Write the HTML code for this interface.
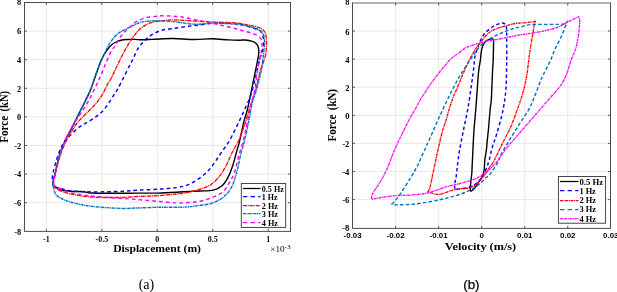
<!DOCTYPE html><html><head><meta charset="utf-8"><style>html,body{margin:0;padding:0;background:#fff;overflow:hidden;}svg{display:block;will-change:transform;}</style></head><body>
<svg width="617" height="292" viewBox="0 0 617 292">
<rect x="0" y="0" width="617" height="292" fill="#fff"/>
<line x1="46.40" y1="2.50" x2="46.40" y2="231.40" stroke="#e3e3e3" stroke-width="0.8"/>
<line x1="101.85" y1="2.50" x2="101.85" y2="231.40" stroke="#e3e3e3" stroke-width="0.8"/>
<line x1="157.30" y1="2.50" x2="157.30" y2="231.40" stroke="#e3e3e3" stroke-width="0.8"/>
<line x1="212.75" y1="2.50" x2="212.75" y2="231.40" stroke="#e3e3e3" stroke-width="0.8"/>
<line x1="268.20" y1="2.50" x2="268.20" y2="231.40" stroke="#e3e3e3" stroke-width="0.8"/>
<line x1="24.50" y1="31.10" x2="290.50" y2="31.10" stroke="#e3e3e3" stroke-width="0.8"/>
<line x1="24.50" y1="59.70" x2="290.50" y2="59.70" stroke="#e3e3e3" stroke-width="0.8"/>
<line x1="24.50" y1="88.30" x2="290.50" y2="88.30" stroke="#e3e3e3" stroke-width="0.8"/>
<line x1="24.50" y1="116.90" x2="290.50" y2="116.90" stroke="#e3e3e3" stroke-width="0.8"/>
<line x1="24.50" y1="145.50" x2="290.50" y2="145.50" stroke="#e3e3e3" stroke-width="0.8"/>
<line x1="24.50" y1="174.10" x2="290.50" y2="174.10" stroke="#e3e3e3" stroke-width="0.8"/>
<line x1="24.50" y1="202.70" x2="290.50" y2="202.70" stroke="#e3e3e3" stroke-width="0.8"/>
<line x1="395.64" y1="2.90" x2="395.64" y2="228.40" stroke="#e3e3e3" stroke-width="0.8"/>
<line x1="438.67" y1="2.90" x2="438.67" y2="228.40" stroke="#e3e3e3" stroke-width="0.8"/>
<line x1="481.70" y1="2.90" x2="481.70" y2="228.40" stroke="#e3e3e3" stroke-width="0.8"/>
<line x1="524.73" y1="2.90" x2="524.73" y2="228.40" stroke="#e3e3e3" stroke-width="0.8"/>
<line x1="567.76" y1="2.90" x2="567.76" y2="228.40" stroke="#e3e3e3" stroke-width="0.8"/>
<line x1="352.50" y1="31.00" x2="610.50" y2="31.00" stroke="#e3e3e3" stroke-width="0.8"/>
<line x1="352.50" y1="59.10" x2="610.50" y2="59.10" stroke="#e3e3e3" stroke-width="0.8"/>
<line x1="352.50" y1="87.20" x2="610.50" y2="87.20" stroke="#e3e3e3" stroke-width="0.8"/>
<line x1="352.50" y1="115.30" x2="610.50" y2="115.30" stroke="#e3e3e3" stroke-width="0.8"/>
<line x1="352.50" y1="143.40" x2="610.50" y2="143.40" stroke="#e3e3e3" stroke-width="0.8"/>
<line x1="352.50" y1="171.50" x2="610.50" y2="171.50" stroke="#e3e3e3" stroke-width="0.8"/>
<line x1="352.50" y1="199.60" x2="610.50" y2="199.60" stroke="#e3e3e3" stroke-width="0.8"/>
<path d="M52.80,184.50 C52.68,183.53 52.92,181.68 53.30,180.00 C53.68,178.32 54.57,176.47 55.10,174.40 C55.63,172.33 55.95,170.18 56.50,167.60 C57.05,165.02 57.65,161.75 58.40,158.90 C59.15,156.05 60.07,153.10 61.00,150.50 C61.93,147.90 63.17,145.25 64.00,143.30 C64.83,141.35 64.95,140.83 66.00,138.80 C67.05,136.77 68.73,134.10 70.30,131.10 C71.87,128.10 73.70,124.23 75.40,120.80 C77.10,117.37 78.78,113.92 80.50,110.50 C82.22,107.08 84.03,103.72 85.70,100.30 C87.37,96.88 88.93,93.88 90.50,90.00 C92.07,86.12 93.47,81.57 95.10,77.00 C96.73,72.43 98.83,66.27 100.30,62.60 C101.77,58.93 102.70,57.18 103.90,55.00 C105.10,52.82 106.23,51.17 107.50,49.50 C108.77,47.83 110.08,46.25 111.50,45.00 C112.92,43.75 114.42,42.80 116.00,42.00 C117.58,41.20 119.17,40.62 121.00,40.20 C122.83,39.78 124.67,39.63 127.00,39.50 C129.33,39.37 132.60,39.35 135.00,39.40 C137.40,39.45 138.62,39.80 141.40,39.80 C144.18,39.80 148.60,39.53 151.70,39.40 C154.80,39.27 156.33,39.15 160.00,39.00 C163.67,38.85 168.00,38.42 173.70,38.50 C179.40,38.58 187.82,39.45 194.20,39.50 C200.58,39.55 206.28,38.73 212.00,38.80 C217.72,38.87 223.83,39.67 228.50,39.90 C233.17,40.13 237.27,40.18 240.00,40.20 C242.73,40.22 242.85,39.80 244.90,40.00 C246.95,40.20 250.35,40.75 252.30,41.40 C254.25,42.05 255.58,42.87 256.60,43.90 C257.62,44.93 258.05,45.92 258.40,47.60 C258.75,49.28 258.88,51.60 258.70,54.00 C258.52,56.40 257.95,58.68 257.30,62.00 C256.65,65.32 255.85,68.78 254.80,73.90 C253.75,79.02 252.25,86.68 251.00,92.70 C249.75,98.72 248.47,105.25 247.30,110.00 C246.13,114.75 245.35,115.73 244.00,121.20 C242.65,126.67 240.45,137.67 239.20,142.80 C237.95,147.93 237.47,148.57 236.50,152.00 C235.53,155.43 234.67,159.47 233.40,163.40 C232.13,167.33 230.75,171.90 228.90,175.60 C227.05,179.30 224.88,183.18 222.30,185.60 C219.72,188.02 217.12,189.20 213.40,190.10 C209.68,191.00 204.15,190.78 200.00,191.00 C195.85,191.22 192.42,191.18 188.50,191.40 C184.58,191.62 181.63,192.02 176.50,192.30 C171.37,192.58 164.27,192.97 157.70,193.10 C151.13,193.23 143.38,193.07 137.10,193.10 C130.82,193.13 127.62,193.32 120.00,193.30 C112.38,193.28 97.40,193.25 91.40,193.00 C85.40,192.75 87.42,192.08 84.00,191.80 C80.58,191.52 74.57,191.60 70.90,191.30 C67.23,191.00 64.27,190.58 62.00,190.00 C59.73,189.42 58.63,188.50 57.30,187.80 C55.97,187.10 54.75,186.35 54.00,185.80 C53.25,185.25 52.92,185.47 52.80,184.50 Z" fill="none" stroke="#000000" stroke-width="1.40" stroke-linejoin="round"/>
<path d="M53.50,185.50 C52.90,184.40 52.78,182.42 52.60,181.00 C52.42,179.58 52.30,178.50 52.40,177.00 C52.50,175.50 52.88,173.58 53.20,172.00 C53.52,170.42 53.80,169.33 54.30,167.50 C54.80,165.67 55.58,163.00 56.20,161.00 C56.82,159.00 57.32,157.42 58.00,155.50 C58.68,153.58 59.43,151.50 60.30,149.50 C61.17,147.50 62.17,145.25 63.20,143.50 C64.23,141.75 65.32,140.37 66.50,139.00 C67.68,137.63 68.53,137.00 70.30,135.30 C72.07,133.60 74.95,130.57 77.10,128.80 C79.25,127.03 81.03,126.07 83.20,124.70 C85.37,123.33 87.58,122.20 90.10,120.60 C92.62,119.00 95.80,117.15 98.30,115.10 C100.80,113.05 103.05,110.80 105.10,108.30 C107.15,105.80 108.95,102.62 110.60,100.10 C112.25,97.58 113.80,95.08 115.00,93.20 C116.20,91.32 116.35,91.45 117.80,88.80 C119.25,86.15 121.68,81.27 123.70,77.30 C125.72,73.33 128.43,67.88 129.90,65.00 C131.37,62.12 131.03,62.93 132.50,60.00 C133.97,57.07 136.53,50.75 138.70,47.40 C140.87,44.05 143.22,42.07 145.50,39.90 C147.78,37.73 149.65,36.02 152.40,34.40 C155.15,32.78 158.45,31.18 162.00,30.20 C165.55,29.22 169.47,29.13 173.70,28.50 C177.93,27.87 182.83,27.02 187.40,26.40 C191.97,25.78 196.53,25.37 201.10,24.80 C205.67,24.23 209.98,23.25 214.80,23.00 C219.62,22.75 225.80,23.05 230.00,23.30 C234.20,23.55 236.67,23.88 240.00,24.50 C243.33,25.12 247.33,26.25 250.00,27.00 C252.67,27.75 254.38,28.45 256.00,29.00 C257.62,29.55 258.58,29.25 259.70,30.30 C260.82,31.35 262.05,33.23 262.70,35.30 C263.35,37.37 263.60,40.25 263.60,42.70 C263.60,45.15 263.05,48.12 262.70,50.00 C262.35,51.88 262.03,52.33 261.50,54.00 C260.97,55.67 260.45,56.37 259.50,60.00 C258.55,63.63 257.22,70.03 255.80,75.80 C254.38,81.57 252.90,88.90 251.00,94.60 C249.10,100.30 246.37,105.57 244.40,110.00 C242.43,114.43 241.67,116.13 239.20,121.20 C236.73,126.27 232.42,135.42 229.60,140.40 C226.78,145.38 224.63,147.65 222.30,151.10 C219.97,154.55 217.83,157.95 215.60,161.10 C213.37,164.25 211.50,167.22 208.90,170.00 C206.30,172.78 203.40,175.37 200.00,177.80 C196.60,180.23 192.42,182.97 188.50,184.60 C184.58,186.23 181.63,186.83 176.50,187.60 C171.37,188.37 164.27,188.77 157.70,189.20 C151.13,189.63 143.38,189.83 137.10,190.20 C130.82,190.57 127.62,191.12 120.00,191.40 C112.38,191.68 99.58,191.98 91.40,191.90 C83.22,191.82 75.80,191.38 70.90,190.90 C66.00,190.42 64.45,189.55 62.00,189.00 C59.55,188.45 57.62,188.18 56.20,187.60 C54.78,187.02 54.10,186.60 53.50,185.50 Z" fill="none" stroke="#0000ff" stroke-width="1.45" stroke-dasharray="3.6 3.0" stroke-linejoin="round"/>
<path d="M53.60,185.50 C53.25,184.33 53.23,182.75 53.40,181.00 C53.57,179.25 54.08,177.23 54.60,175.00 C55.12,172.77 55.68,170.43 56.50,167.60 C57.32,164.77 58.65,160.73 59.50,158.00 C60.35,155.27 60.40,154.20 61.60,151.20 C62.80,148.20 65.22,142.95 66.70,140.00 C68.18,137.05 68.88,136.17 70.50,133.50 C72.12,130.83 74.73,126.38 76.40,124.00 C78.07,121.62 78.68,121.13 80.50,119.20 C82.32,117.27 85.02,114.68 87.30,112.40 C89.58,110.12 92.13,107.78 94.20,105.50 C96.27,103.22 98.10,100.98 99.70,98.70 C101.30,96.42 102.55,94.08 103.80,91.80 C105.05,89.52 105.97,87.25 107.20,85.00 C108.43,82.75 109.62,81.35 111.20,78.30 C112.78,75.25 114.83,70.58 116.70,66.70 C118.57,62.82 120.53,58.60 122.40,55.00 C124.27,51.40 126.10,48.10 127.90,45.10 C129.70,42.10 131.40,39.48 133.20,37.00 C135.00,34.52 136.65,32.18 138.70,30.20 C140.75,28.22 143.22,26.42 145.50,25.10 C147.78,23.78 149.88,23.00 152.40,22.30 C154.92,21.60 157.05,21.30 160.60,20.90 C164.15,20.50 168.10,19.88 173.70,19.90 C179.30,19.92 187.35,20.63 194.20,21.00 C201.05,21.37 208.00,21.78 214.80,22.10 C221.60,22.42 229.58,22.45 235.00,22.90 C240.42,23.35 243.80,24.18 247.30,24.80 C250.80,25.42 253.53,25.88 256.00,26.60 C258.47,27.32 260.57,28.07 262.10,29.10 C263.63,30.13 264.48,31.15 265.20,32.80 C265.92,34.45 266.20,36.73 266.40,39.00 C266.60,41.27 266.50,43.90 266.40,46.40 C266.30,48.90 266.28,51.40 265.80,54.00 C265.32,56.60 264.38,59.32 263.50,62.00 C262.62,64.68 261.78,65.60 260.50,70.10 C259.22,74.60 257.38,83.35 255.80,89.00 C254.22,94.65 252.10,100.50 251.00,104.00 C249.90,107.50 250.28,106.50 249.20,110.00 C248.12,113.50 246.20,120.00 244.50,125.00 C242.80,130.00 241.03,135.47 239.00,140.00 C236.97,144.53 234.35,148.12 232.30,152.20 C230.25,156.28 228.75,160.60 226.70,164.50 C224.65,168.40 222.60,172.27 220.00,175.60 C217.40,178.93 214.43,182.23 211.10,184.50 C207.77,186.77 203.77,187.90 200.00,189.20 C196.23,190.50 192.42,191.50 188.50,192.30 C184.58,193.10 181.63,193.43 176.50,194.00 C171.37,194.57 164.27,195.28 157.70,195.70 C151.13,196.12 143.38,196.20 137.10,196.50 C130.82,196.80 127.62,197.42 120.00,197.50 C112.38,197.58 99.58,197.58 91.40,197.00 C83.22,196.42 76.03,195.02 70.90,194.00 C65.77,192.98 63.17,191.90 60.60,190.90 C58.03,189.90 56.67,188.90 55.50,188.00 C54.33,187.10 53.95,186.67 53.60,185.50 Z" fill="none" stroke="#ff0000" stroke-width="1.35" stroke-dasharray="4 0.7 1 0.7" stroke-linejoin="round"/>
<path d="M53.00,185.00 C52.80,183.08 52.95,181.77 53.30,180.00 C53.65,178.23 54.57,176.47 55.10,174.40 C55.63,172.33 55.95,170.18 56.50,167.60 C57.05,165.02 57.65,161.75 58.40,158.90 C59.15,156.05 60.07,153.10 61.00,150.50 C61.93,147.90 63.17,145.25 64.00,143.30 C64.83,141.35 64.95,140.83 66.00,138.80 C67.05,136.77 68.73,134.10 70.30,131.10 C71.87,128.10 73.70,124.23 75.40,120.80 C77.10,117.37 78.78,113.92 80.50,110.50 C82.22,107.08 84.03,103.72 85.70,100.30 C87.37,96.88 88.93,93.88 90.50,90.00 C92.07,86.12 93.47,81.57 95.10,77.00 C96.73,72.43 98.83,66.27 100.30,62.60 C101.77,58.93 102.50,57.92 103.90,55.00 C105.30,52.08 106.98,48.05 108.70,45.10 C110.42,42.15 112.37,39.42 114.20,37.30 C116.03,35.18 117.65,33.82 119.70,32.40 C121.75,30.98 123.95,30.10 126.50,28.80 C129.05,27.50 132.52,25.72 135.00,24.60 C137.48,23.48 138.62,22.72 141.40,22.10 C144.18,21.48 148.60,21.08 151.70,20.90 C154.80,20.72 156.33,20.88 160.00,21.00 C163.67,21.12 168.00,21.07 173.70,21.60 C179.40,22.13 187.35,23.93 194.20,24.20 C201.05,24.47 208.00,23.20 214.80,23.20 C221.60,23.20 229.58,23.73 235.00,24.20 C240.42,24.67 243.80,25.28 247.30,26.00 C250.80,26.72 253.63,27.57 256.00,28.50 C258.37,29.43 260.17,30.27 261.50,31.60 C262.83,32.93 263.48,34.65 264.00,36.50 C264.52,38.35 264.60,40.45 264.60,42.70 C264.60,44.95 264.30,47.12 264.00,50.00 C263.70,52.88 263.23,56.65 262.80,60.00 C262.37,63.35 262.42,65.27 261.40,70.10 C260.38,74.93 258.27,83.35 256.70,89.00 C255.13,94.65 253.32,98.63 252.00,104.00 C250.68,109.37 250.13,114.73 248.80,121.20 C247.47,127.67 245.27,137.63 244.00,142.80 C242.73,147.97 242.42,147.28 241.20,152.20 C239.98,157.12 238.37,166.35 236.70,172.30 C235.03,178.25 233.60,183.63 231.20,187.90 C228.80,192.17 225.65,195.30 222.30,197.90 C218.95,200.50 214.82,202.27 211.10,203.50 C207.38,204.73 203.77,204.75 200.00,205.30 C196.23,205.85 192.42,206.47 188.50,206.80 C184.58,207.13 181.63,207.22 176.50,207.30 C171.37,207.38 164.27,207.18 157.70,207.30 C151.13,207.42 143.38,207.82 137.10,208.00 C130.82,208.18 127.62,208.68 120.00,208.40 C112.38,208.12 99.58,207.33 91.40,206.30 C83.22,205.27 76.03,203.57 70.90,202.20 C65.77,200.83 63.00,199.22 60.60,198.10 C58.20,196.98 57.52,196.60 56.50,195.50 C55.48,194.40 55.08,193.25 54.50,191.50 C53.92,189.75 53.20,186.92 53.00,185.00 Z" fill="none" stroke="#0072bd" stroke-width="1.40" stroke-dasharray="3 0.6 1 0.6" stroke-linejoin="round"/>
<path d="M53.80,185.20 C53.50,184.12 53.73,181.87 54.00,180.00 C54.27,178.13 54.90,176.17 55.40,174.00 C55.90,171.83 56.40,169.58 57.00,167.00 C57.60,164.42 58.25,161.33 59.00,158.50 C59.75,155.67 60.58,152.75 61.50,150.00 C62.42,147.25 63.32,144.83 64.50,142.00 C65.68,139.17 67.18,135.83 68.60,133.00 C70.02,130.17 71.48,127.52 73.00,125.00 C74.52,122.48 76.00,120.45 77.70,117.90 C79.40,115.35 81.45,112.45 83.20,109.70 C84.95,106.95 86.68,104.10 88.20,101.40 C89.72,98.70 90.97,96.15 92.30,93.50 C93.63,90.85 95.00,88.00 96.20,85.50 C97.40,83.00 98.13,81.63 99.50,78.50 C100.87,75.37 102.55,71.07 104.40,66.70 C106.25,62.33 108.75,55.90 110.60,52.30 C112.45,48.70 113.88,47.67 115.50,45.10 C117.12,42.53 118.70,39.18 120.30,36.90 C121.90,34.62 123.38,33.12 125.10,31.40 C126.82,29.68 128.90,28.12 130.60,26.60 C132.30,25.08 132.80,23.77 135.30,22.30 C137.80,20.83 141.83,18.82 145.60,17.80 C149.37,16.78 155.05,16.53 157.90,16.20 C160.75,15.87 158.93,15.70 162.70,15.80 C166.47,15.90 174.10,15.93 180.50,16.80 C186.90,17.67 194.93,19.73 201.10,21.00 C207.27,22.27 211.85,23.15 217.50,24.40 C223.15,25.65 230.65,27.42 235.00,28.50 C239.35,29.58 240.72,30.08 243.60,30.90 C246.48,31.72 249.93,32.57 252.30,33.40 C254.67,34.23 256.37,34.97 257.80,35.90 C259.23,36.83 260.18,37.67 260.90,39.00 C261.62,40.33 262.00,42.07 262.10,43.90 C262.20,45.73 261.70,48.32 261.50,50.00 C261.30,51.68 261.40,51.50 260.90,54.00 C260.40,56.50 259.23,61.00 258.50,65.00 C257.77,69.00 257.12,73.83 256.50,78.00 C255.88,82.17 255.68,85.60 254.80,90.00 C253.92,94.40 252.40,99.20 251.20,104.40 C250.00,109.60 249.00,114.80 247.60,121.20 C246.20,127.60 244.23,137.25 242.80,142.80 C241.37,148.35 240.38,149.58 239.00,154.50 C237.62,159.42 236.18,167.48 234.50,172.30 C232.82,177.12 230.93,180.07 228.90,183.40 C226.87,186.73 225.27,189.88 222.30,192.30 C219.33,194.72 214.82,196.42 211.10,197.90 C207.38,199.38 203.77,200.43 200.00,201.20 C196.23,201.97 192.42,202.22 188.50,202.50 C184.58,202.78 181.63,203.10 176.50,202.90 C171.37,202.70 164.27,201.87 157.70,201.30 C151.13,200.73 143.38,200.00 137.10,199.50 C130.82,199.00 124.52,198.60 120.00,198.30 C115.48,198.00 114.77,198.08 110.00,197.70 C105.23,197.32 97.92,196.80 91.40,196.00 C84.88,195.20 76.03,194.10 70.90,192.90 C65.77,191.70 63.12,189.87 60.60,188.80 C58.08,187.73 56.93,187.10 55.80,186.50 C54.67,185.90 54.10,186.28 53.80,185.20 Z" fill="none" stroke="#ff00ff" stroke-width="1.45" stroke-dasharray="3.8 3.0" stroke-linejoin="round"/>
<path d="M470.90,191.20 C470.37,191.07 470.35,189.65 470.30,188.50 C470.25,187.35 470.38,186.55 470.60,184.30 C470.82,182.05 471.38,177.18 471.60,175.00 C471.82,172.82 471.68,175.27 471.90,171.20 C472.12,167.13 472.55,157.47 472.90,150.60 C473.25,143.73 473.50,137.10 474.00,130.00 C474.50,122.90 475.30,115.67 475.90,108.00 C476.50,100.33 477.12,90.33 477.60,84.00 C478.08,77.67 478.33,74.00 478.80,70.00 C479.27,66.00 480.00,63.00 480.40,60.00 C480.80,57.00 480.82,54.35 481.20,52.00 C481.58,49.65 481.93,47.70 482.70,45.90 C483.47,44.10 484.63,42.28 485.80,41.20 C486.97,40.12 488.67,39.78 489.70,39.40 C490.73,39.02 491.37,38.85 492.00,38.90 C492.63,38.95 493.25,38.53 493.50,39.70 C493.75,40.87 493.55,42.52 493.50,45.90 C493.45,49.28 493.35,55.98 493.20,60.00 C493.05,64.02 492.80,66.00 492.60,70.00 C492.40,74.00 492.22,79.00 492.00,84.00 C491.78,89.00 491.58,96.00 491.30,100.00 C491.02,104.00 490.65,104.58 490.30,108.00 C489.95,111.42 489.52,116.83 489.20,120.50 C488.88,124.17 488.73,126.57 488.40,130.00 C488.07,133.43 487.55,137.67 487.20,141.10 C486.85,144.53 486.70,147.45 486.30,150.60 C485.90,153.75 485.18,156.57 484.80,160.00 C484.42,163.43 484.55,168.20 484.00,171.20 C483.45,174.20 482.58,175.87 481.50,178.00 C480.42,180.13 478.83,182.12 477.50,184.00 C476.17,185.88 474.60,188.10 473.50,189.30 C472.40,190.50 471.43,191.33 470.90,191.20 Z" fill="none" stroke="#000000" stroke-width="1.40" stroke-linejoin="round"/>
<path d="M455.40,188.90 C454.48,188.42 454.63,187.32 454.60,186.00 C454.57,184.68 454.93,182.58 455.20,181.00 C455.47,179.42 455.82,179.17 456.20,176.50 C456.58,173.83 456.95,169.32 457.50,165.00 C458.05,160.68 458.50,156.43 459.50,150.60 C460.50,144.77 462.08,137.10 463.50,130.00 C464.92,122.90 466.65,115.67 468.00,108.00 C469.35,100.33 470.68,90.33 471.60,84.00 C472.52,77.67 472.93,74.55 473.50,70.00 C474.07,65.45 474.10,60.98 475.00,56.70 C475.90,52.42 477.48,47.90 478.90,44.30 C480.32,40.70 481.70,37.67 483.50,35.10 C485.30,32.53 487.63,30.58 489.70,28.90 C491.77,27.22 493.85,25.98 495.90,25.00 C497.95,24.02 500.52,23.17 502.00,23.00 C503.48,22.83 504.07,23.28 504.80,24.00 C505.53,24.72 506.08,24.95 506.40,27.30 C506.72,29.65 506.65,32.65 506.70,38.10 C506.75,43.55 506.78,52.35 506.70,60.00 C506.62,67.65 506.53,77.33 506.20,84.00 C505.87,90.67 505.47,94.60 504.70,100.00 C503.93,105.40 502.98,110.58 501.60,116.40 C500.22,122.22 497.95,129.75 496.40,134.90 C494.85,140.05 493.50,143.12 492.30,147.30 C491.10,151.48 490.17,156.55 489.20,160.00 C488.23,163.45 487.50,165.42 486.50,168.00 C485.50,170.58 484.52,173.30 483.20,175.50 C481.88,177.70 480.65,179.35 478.60,181.20 C476.55,183.05 473.98,185.32 470.90,186.60 C467.82,187.88 462.68,188.52 460.10,188.90 C457.52,189.28 456.32,189.38 455.40,188.90 Z" fill="none" stroke="#0000ff" stroke-width="1.45" stroke-dasharray="3.4 2.6" stroke-linejoin="round"/>
<path d="M427.80,191.80 C427.80,191.80 429.03,190.13 429.60,188.50 C430.17,186.87 430.63,184.62 431.20,182.00 C431.77,179.38 432.28,176.22 433.00,172.80 C433.72,169.38 434.68,165.28 435.50,161.50 C436.32,157.72 436.75,155.13 437.90,150.10 C439.05,145.07 441.05,136.23 442.40,131.30 C443.75,126.37 444.92,124.05 446.00,120.50 C447.08,116.95 447.68,113.92 448.90,110.00 C450.12,106.08 451.70,101.17 453.30,97.00 C454.90,92.83 456.72,89.25 458.50,85.00 C460.28,80.75 462.15,75.75 464.00,71.50 C465.85,67.25 467.83,63.00 469.60,59.50 C471.37,56.00 472.80,53.33 474.60,50.50 C476.40,47.67 478.15,45.33 480.40,42.50 C482.65,39.67 485.52,35.77 488.10,33.50 C490.68,31.23 493.07,30.13 495.90,28.90 C498.73,27.67 501.92,27.00 505.10,26.10 C508.28,25.20 511.83,24.05 515.00,23.50 C518.17,22.95 521.90,23.00 524.10,22.80 C526.30,22.60 526.32,22.55 528.20,22.30 C530.08,22.05 535.40,21.30 535.40,21.30 C535.40,21.30 534.92,21.83 534.40,24.40 C533.88,26.97 533.05,32.23 532.30,36.70 C531.55,41.17 530.48,47.32 529.90,51.20 C529.32,55.08 529.43,55.33 528.80,60.00 C528.17,64.67 527.23,73.25 526.10,79.20 C524.97,85.15 523.52,90.52 522.00,95.70 C520.48,100.88 518.87,105.13 517.00,110.30 C515.13,115.47 513.20,121.23 510.80,126.70 C508.40,132.17 505.33,137.55 502.60,143.10 C499.87,148.65 496.58,155.93 494.40,160.00 C492.22,164.07 491.10,165.00 489.50,167.50 C487.90,170.00 486.10,173.23 484.80,175.00 C483.50,176.77 483.25,176.43 481.70,178.10 C480.15,179.77 477.82,183.33 475.50,185.00 C473.18,186.67 470.63,187.45 467.80,188.10 C464.97,188.75 461.58,188.38 458.50,188.90 C455.42,189.42 452.38,190.30 449.30,191.20 C446.22,192.10 442.55,193.87 440.00,194.30 C437.45,194.73 436.03,194.22 434.00,193.80 C431.97,193.38 427.80,191.80 427.80,191.80 Z" fill="none" stroke="#ff0000" stroke-width="1.35" stroke-dasharray="3 0.6 1 0.6" stroke-linejoin="round"/>
<path d="M391.80,204.20 C391.80,204.20 392.35,203.98 393.90,202.10 C395.45,200.22 398.18,197.18 401.10,192.90 C404.02,188.62 408.60,181.05 411.40,176.40 C414.20,171.75 415.88,169.02 417.90,165.00 C419.92,160.98 421.47,156.82 423.50,152.30 C425.53,147.78 427.52,143.65 430.10,137.90 C432.68,132.15 436.77,122.78 439.00,117.80 C441.23,112.82 442.00,111.22 443.50,108.00 C445.00,104.78 446.50,101.58 448.00,98.50 C449.50,95.42 450.92,92.58 452.50,89.50 C454.08,86.42 455.72,83.17 457.50,80.00 C459.28,76.83 461.28,73.58 463.20,70.50 C465.12,67.42 467.12,64.33 469.00,61.50 C470.88,58.67 472.92,55.75 474.50,53.50 C476.08,51.25 477.00,49.78 478.50,48.00 C480.00,46.22 481.38,44.47 483.50,42.80 C485.62,41.13 488.37,39.55 491.20,38.00 C494.03,36.45 497.40,34.88 500.50,33.50 C503.60,32.12 507.38,30.60 509.80,29.70 C512.22,28.80 512.97,28.63 515.00,28.10 C517.03,27.57 519.45,27.08 522.00,26.50 C524.55,25.92 525.48,24.95 530.30,24.60 C535.12,24.25 545.25,24.50 550.90,24.40 C556.55,24.30 561.47,24.52 564.20,24.00 C566.93,23.48 567.30,21.30 567.30,21.30 C567.30,21.30 566.32,23.93 565.30,26.50 C564.28,29.07 562.92,32.93 561.20,36.70 C559.48,40.47 556.72,45.32 555.00,49.10 C553.28,52.88 552.45,55.92 550.90,59.40 C549.35,62.88 547.32,66.70 545.70,70.00 C544.08,73.30 543.22,74.37 541.20,79.20 C539.18,84.03 535.75,93.82 533.60,99.00 C531.45,104.18 530.73,106.02 528.30,110.30 C525.87,114.58 522.25,119.57 519.00,124.70 C515.75,129.83 511.88,135.97 508.80,141.10 C505.72,146.23 502.37,151.87 500.50,155.50 C498.63,159.13 499.45,159.65 497.60,162.90 C495.75,166.15 491.45,172.48 489.40,175.00 C487.35,177.52 486.85,176.58 485.30,178.00 C483.75,179.42 482.50,181.55 480.10,183.50 C477.70,185.45 474.23,187.90 470.90,189.70 C467.57,191.50 463.70,193.02 460.10,194.30 C456.50,195.58 452.65,196.50 449.30,197.40 C445.95,198.30 443.58,198.92 440.00,199.70 C436.42,200.48 432.23,201.35 427.80,202.10 C423.37,202.85 417.85,203.75 413.40,204.20 C408.95,204.65 404.17,204.70 401.10,204.80 C398.03,204.90 396.55,204.90 395.00,204.80 C393.45,204.70 391.80,204.20 391.80,204.20 Z" fill="none" stroke="#0072bd" stroke-width="1.40" stroke-dasharray="3.5 2.2" stroke-linejoin="round"/>
<path d="M372.30,199.40 C372.30,199.40 371.40,198.12 371.60,196.90 C371.80,195.68 372.55,193.85 373.50,192.10 C374.45,190.35 375.87,188.63 377.30,186.40 C378.73,184.17 380.50,181.58 382.10,178.70 C383.70,175.82 385.47,172.28 386.90,169.10 C388.33,165.92 389.43,162.78 390.70,159.60 C391.97,156.42 392.75,154.00 394.50,150.00 C396.25,146.00 398.60,140.97 401.20,135.60 C403.80,130.23 407.80,122.12 410.10,117.80 C412.40,113.48 413.33,112.67 415.00,109.70 C416.67,106.73 418.73,102.40 420.10,100.00 C421.47,97.60 421.32,98.15 423.20,95.30 C425.08,92.45 428.32,87.20 431.40,82.90 C434.48,78.60 438.43,73.52 441.70,69.50 C444.97,65.48 447.95,61.70 451.00,58.80 C454.05,55.90 457.67,53.87 460.00,52.10 C462.33,50.33 462.88,49.37 465.00,48.20 C467.12,47.03 470.13,46.00 472.70,45.10 C475.27,44.20 477.83,43.50 480.40,42.80 C482.97,42.10 485.52,41.42 488.10,40.90 C490.68,40.38 493.07,40.22 495.90,39.70 C498.73,39.18 501.92,38.45 505.10,37.80 C508.28,37.15 512.52,36.28 515.00,35.80 C517.48,35.32 515.73,35.60 520.00,34.90 C524.27,34.20 534.43,32.83 540.60,31.60 C546.77,30.37 552.55,29.05 557.00,27.50 C561.45,25.95 563.70,24.12 567.30,22.30 C570.90,20.48 578.60,16.60 578.60,16.60 C578.60,16.60 579.60,18.40 579.70,20.30 C579.80,22.20 579.38,25.60 579.20,28.00 C579.02,30.40 579.20,31.18 578.60,34.70 C578.00,38.22 576.85,44.88 575.60,49.10 C574.35,53.32 572.57,55.90 571.10,60.00 C569.63,64.10 568.37,69.70 566.80,73.70 C565.23,77.70 563.33,81.28 561.70,84.00 C560.07,86.72 559.23,87.33 557.00,90.00 C554.77,92.67 551.20,96.67 548.30,100.00 C545.40,103.33 542.50,106.67 539.60,110.00 C536.70,113.33 533.80,116.67 530.90,120.00 C528.00,123.33 525.10,126.67 522.20,130.00 C519.30,133.33 516.13,136.95 513.50,140.00 C510.87,143.05 508.57,145.55 506.40,148.30 C504.23,151.05 502.32,153.97 500.50,156.50 C498.68,159.03 497.58,161.17 495.50,163.50 C493.42,165.83 490.37,168.50 488.00,170.50 C485.63,172.50 483.13,174.23 481.30,175.50 C479.47,176.77 478.73,177.28 477.00,178.10 C475.27,178.92 473.72,179.50 470.90,180.40 C468.08,181.30 463.70,182.57 460.10,183.50 C456.50,184.43 452.65,185.10 449.30,186.00 C445.95,186.90 443.58,187.75 440.00,188.90 C436.42,190.05 432.57,191.88 427.80,192.90 C423.03,193.92 416.63,194.55 411.40,195.00 C406.17,195.45 400.80,195.28 396.40,195.60 C392.00,195.92 388.18,196.47 385.00,196.90 C381.82,197.33 379.42,197.78 377.30,198.20 C375.18,198.62 372.30,199.40 372.30,199.40 Z" fill="none" stroke="#ff00ff" stroke-width="1.35" stroke-dasharray="2.6 0.6 1 0.6" stroke-linejoin="round"/>
<rect x="24.50" y="2.50" width="266.00" height="228.90" fill="none" stroke="#4d4d4d" stroke-width="1"/>
<line x1="46.40" y1="231.40" x2="46.40" y2="228.80" stroke="#4d4d4d" stroke-width="0.9"/>
<line x1="46.40" y1="2.50" x2="46.40" y2="5.10" stroke="#4d4d4d" stroke-width="0.9"/>
<line x1="101.85" y1="231.40" x2="101.85" y2="228.80" stroke="#4d4d4d" stroke-width="0.9"/>
<line x1="101.85" y1="2.50" x2="101.85" y2="5.10" stroke="#4d4d4d" stroke-width="0.9"/>
<line x1="157.30" y1="231.40" x2="157.30" y2="228.80" stroke="#4d4d4d" stroke-width="0.9"/>
<line x1="157.30" y1="2.50" x2="157.30" y2="5.10" stroke="#4d4d4d" stroke-width="0.9"/>
<line x1="212.75" y1="231.40" x2="212.75" y2="228.80" stroke="#4d4d4d" stroke-width="0.9"/>
<line x1="212.75" y1="2.50" x2="212.75" y2="5.10" stroke="#4d4d4d" stroke-width="0.9"/>
<line x1="268.20" y1="231.40" x2="268.20" y2="228.80" stroke="#4d4d4d" stroke-width="0.9"/>
<line x1="268.20" y1="2.50" x2="268.20" y2="5.10" stroke="#4d4d4d" stroke-width="0.9"/>
<line x1="24.50" y1="31.10" x2="27.10" y2="31.10" stroke="#4d4d4d" stroke-width="0.9"/>
<line x1="290.50" y1="31.10" x2="287.90" y2="31.10" stroke="#4d4d4d" stroke-width="0.9"/>
<line x1="24.50" y1="59.70" x2="27.10" y2="59.70" stroke="#4d4d4d" stroke-width="0.9"/>
<line x1="290.50" y1="59.70" x2="287.90" y2="59.70" stroke="#4d4d4d" stroke-width="0.9"/>
<line x1="24.50" y1="88.30" x2="27.10" y2="88.30" stroke="#4d4d4d" stroke-width="0.9"/>
<line x1="290.50" y1="88.30" x2="287.90" y2="88.30" stroke="#4d4d4d" stroke-width="0.9"/>
<line x1="24.50" y1="116.90" x2="27.10" y2="116.90" stroke="#4d4d4d" stroke-width="0.9"/>
<line x1="290.50" y1="116.90" x2="287.90" y2="116.90" stroke="#4d4d4d" stroke-width="0.9"/>
<line x1="24.50" y1="145.50" x2="27.10" y2="145.50" stroke="#4d4d4d" stroke-width="0.9"/>
<line x1="290.50" y1="145.50" x2="287.90" y2="145.50" stroke="#4d4d4d" stroke-width="0.9"/>
<line x1="24.50" y1="174.10" x2="27.10" y2="174.10" stroke="#4d4d4d" stroke-width="0.9"/>
<line x1="290.50" y1="174.10" x2="287.90" y2="174.10" stroke="#4d4d4d" stroke-width="0.9"/>
<line x1="24.50" y1="202.70" x2="27.10" y2="202.70" stroke="#4d4d4d" stroke-width="0.9"/>
<line x1="290.50" y1="202.70" x2="287.90" y2="202.70" stroke="#4d4d4d" stroke-width="0.9"/>
<line x1="352.50" y1="2.90" x2="610.50" y2="2.90" stroke="#b4b4b4" stroke-width="2.00"/>
<polyline points="352.50,2.40 352.50,228.40 610.50,228.40 610.50,2.40" fill="none" stroke="#4d4d4d" stroke-width="1"/>
<line x1="395.64" y1="228.40" x2="395.64" y2="225.80" stroke="#4d4d4d" stroke-width="0.9"/>
<line x1="395.64" y1="2.90" x2="395.64" y2="5.50" stroke="#4d4d4d" stroke-width="0.9"/>
<line x1="438.67" y1="228.40" x2="438.67" y2="225.80" stroke="#4d4d4d" stroke-width="0.9"/>
<line x1="438.67" y1="2.90" x2="438.67" y2="5.50" stroke="#4d4d4d" stroke-width="0.9"/>
<line x1="481.70" y1="228.40" x2="481.70" y2="225.80" stroke="#4d4d4d" stroke-width="0.9"/>
<line x1="481.70" y1="2.90" x2="481.70" y2="5.50" stroke="#4d4d4d" stroke-width="0.9"/>
<line x1="524.73" y1="228.40" x2="524.73" y2="225.80" stroke="#4d4d4d" stroke-width="0.9"/>
<line x1="524.73" y1="2.90" x2="524.73" y2="5.50" stroke="#4d4d4d" stroke-width="0.9"/>
<line x1="567.76" y1="228.40" x2="567.76" y2="225.80" stroke="#4d4d4d" stroke-width="0.9"/>
<line x1="567.76" y1="2.90" x2="567.76" y2="5.50" stroke="#4d4d4d" stroke-width="0.9"/>
<line x1="352.50" y1="31.00" x2="355.10" y2="31.00" stroke="#4d4d4d" stroke-width="0.9"/>
<line x1="610.50" y1="31.00" x2="607.90" y2="31.00" stroke="#4d4d4d" stroke-width="0.9"/>
<line x1="352.50" y1="59.10" x2="355.10" y2="59.10" stroke="#4d4d4d" stroke-width="0.9"/>
<line x1="610.50" y1="59.10" x2="607.90" y2="59.10" stroke="#4d4d4d" stroke-width="0.9"/>
<line x1="352.50" y1="87.20" x2="355.10" y2="87.20" stroke="#4d4d4d" stroke-width="0.9"/>
<line x1="610.50" y1="87.20" x2="607.90" y2="87.20" stroke="#4d4d4d" stroke-width="0.9"/>
<line x1="352.50" y1="115.30" x2="355.10" y2="115.30" stroke="#4d4d4d" stroke-width="0.9"/>
<line x1="610.50" y1="115.30" x2="607.90" y2="115.30" stroke="#4d4d4d" stroke-width="0.9"/>
<line x1="352.50" y1="143.40" x2="355.10" y2="143.40" stroke="#4d4d4d" stroke-width="0.9"/>
<line x1="610.50" y1="143.40" x2="607.90" y2="143.40" stroke="#4d4d4d" stroke-width="0.9"/>
<line x1="352.50" y1="171.50" x2="355.10" y2="171.50" stroke="#4d4d4d" stroke-width="0.9"/>
<line x1="610.50" y1="171.50" x2="607.90" y2="171.50" stroke="#4d4d4d" stroke-width="0.9"/>
<line x1="352.50" y1="199.60" x2="355.10" y2="199.60" stroke="#4d4d4d" stroke-width="0.9"/>
<line x1="610.50" y1="199.60" x2="607.90" y2="199.60" stroke="#4d4d4d" stroke-width="0.9"/>
<g transform="translate(21.20 4.70) scale(1.080 1)"><text x="0" y="0" font-family="'Liberation Serif', serif" font-size="7.70" font-weight="bold" text-anchor="end" fill="#000">8</text></g>
<g transform="translate(21.20 34.30) scale(1.080 1)"><text x="0" y="0" font-family="'Liberation Serif', serif" font-size="7.70" font-weight="bold" text-anchor="end" fill="#000">6</text></g>
<g transform="translate(21.20 62.90) scale(1.080 1)"><text x="0" y="0" font-family="'Liberation Serif', serif" font-size="7.70" font-weight="bold" text-anchor="end" fill="#000">4</text></g>
<g transform="translate(21.20 91.50) scale(1.080 1)"><text x="0" y="0" font-family="'Liberation Serif', serif" font-size="7.70" font-weight="bold" text-anchor="end" fill="#000">2</text></g>
<g transform="translate(21.20 120.10) scale(1.080 1)"><text x="0" y="0" font-family="'Liberation Serif', serif" font-size="7.70" font-weight="bold" text-anchor="end" fill="#000">0</text></g>
<g transform="translate(21.20 148.70) scale(1.080 1)"><text x="0" y="0" font-family="'Liberation Serif', serif" font-size="7.70" font-weight="bold" text-anchor="end" fill="#000">-2</text></g>
<g transform="translate(21.20 177.30) scale(1.080 1)"><text x="0" y="0" font-family="'Liberation Serif', serif" font-size="7.70" font-weight="bold" text-anchor="end" fill="#000">-4</text></g>
<g transform="translate(21.20 205.90) scale(1.080 1)"><text x="0" y="0" font-family="'Liberation Serif', serif" font-size="7.70" font-weight="bold" text-anchor="end" fill="#000">-6</text></g>
<g transform="translate(21.20 234.50) scale(1.080 1)"><text x="0" y="0" font-family="'Liberation Serif', serif" font-size="7.70" font-weight="bold" text-anchor="end" fill="#000">-8</text></g>
<g transform="translate(46.40 241.60) scale(1.060 1)"><text x="0" y="0" font-family="'Liberation Serif', serif" font-size="7.50" font-weight="bold" text-anchor="middle" fill="#000">-1</text></g>
<g transform="translate(101.85 241.60) scale(1.060 1)"><text x="0" y="0" font-family="'Liberation Serif', serif" font-size="7.50" font-weight="bold" text-anchor="middle" fill="#000">-0.5</text></g>
<g transform="translate(157.30 241.60) scale(1.060 1)"><text x="0" y="0" font-family="'Liberation Serif', serif" font-size="7.50" font-weight="bold" text-anchor="middle" fill="#000">0</text></g>
<g transform="translate(212.75 241.60) scale(1.060 1)"><text x="0" y="0" font-family="'Liberation Serif', serif" font-size="7.50" font-weight="bold" text-anchor="middle" fill="#000">0.5</text></g>
<g transform="translate(268.20 241.60) scale(1.060 1)"><text x="0" y="0" font-family="'Liberation Serif', serif" font-size="7.50" font-weight="bold" text-anchor="middle" fill="#000">1</text></g>
<g transform="translate(270.30 252.20) scale(1.080 1)"><text x="0" y="0" font-family="'Liberation Serif', serif" font-size="8.40" font-weight="normal" text-anchor="start" fill="#000">&#215;10</text></g>
<g transform="translate(284.50 248.60) scale(1.100 1)"><text x="0" y="0" font-family="'Liberation Serif', serif" font-size="6.60" font-weight="normal" text-anchor="start" fill="#000">-3</text></g>
<text x="113.20" y="251.90" font-family="'Liberation Serif', serif" font-size="10.40" font-weight="bold" text-anchor="start" fill="#000" textLength="87.80" lengthAdjust="spacingAndGlyphs">Displacement (m)</text>
<g transform="translate(8.2 142.8) scale(1.18 1) rotate(-90)"><text x="0.00" y="0.00" font-family="'Liberation Serif', serif" font-size="10.20" font-weight="bold" text-anchor="start" fill="#000" textLength="27.00" lengthAdjust="spacingAndGlyphs">Force</text><text x="31.30" y="0.00" font-family="'Liberation Serif', serif" font-size="10.20" font-weight="bold" text-anchor="start" fill="#000" textLength="20.60" lengthAdjust="spacingAndGlyphs">(kN)</text></g>
<text x="146.45" y="288.80" font-family="'Liberation Serif', serif" font-size="14.00" font-weight="normal" text-anchor="middle" fill="#000">(a)</text>
<g transform="translate(349.40 5.40) scale(1.080 1)"><text x="0" y="0" font-family="'Liberation Serif', serif" font-size="7.90" font-weight="bold" text-anchor="end" fill="#000">8</text></g>
<g transform="translate(349.40 34.60) scale(1.080 1)"><text x="0" y="0" font-family="'Liberation Serif', serif" font-size="7.90" font-weight="bold" text-anchor="end" fill="#000">6</text></g>
<g transform="translate(349.40 62.70) scale(1.080 1)"><text x="0" y="0" font-family="'Liberation Serif', serif" font-size="7.90" font-weight="bold" text-anchor="end" fill="#000">4</text></g>
<g transform="translate(349.40 90.80) scale(1.080 1)"><text x="0" y="0" font-family="'Liberation Serif', serif" font-size="7.90" font-weight="bold" text-anchor="end" fill="#000">2</text></g>
<g transform="translate(349.40 118.90) scale(1.080 1)"><text x="0" y="0" font-family="'Liberation Serif', serif" font-size="7.90" font-weight="bold" text-anchor="end" fill="#000">0</text></g>
<g transform="translate(349.40 147.00) scale(1.080 1)"><text x="0" y="0" font-family="'Liberation Serif', serif" font-size="7.90" font-weight="bold" text-anchor="end" fill="#000">-2</text></g>
<g transform="translate(349.40 175.10) scale(1.080 1)"><text x="0" y="0" font-family="'Liberation Serif', serif" font-size="7.90" font-weight="bold" text-anchor="end" fill="#000">-4</text></g>
<g transform="translate(349.40 203.20) scale(1.080 1)"><text x="0" y="0" font-family="'Liberation Serif', serif" font-size="7.90" font-weight="bold" text-anchor="end" fill="#000">-6</text></g>
<g transform="translate(349.40 231.30) scale(1.080 1)"><text x="0" y="0" font-family="'Liberation Serif', serif" font-size="7.90" font-weight="bold" text-anchor="end" fill="#000">-8</text></g>
<text x="352.61" y="238.30" font-family="'Liberation Sans', sans-serif" font-size="7.90" font-weight="bold" text-anchor="middle" fill="#000">-0.03</text>
<text x="395.64" y="238.30" font-family="'Liberation Sans', sans-serif" font-size="7.90" font-weight="bold" text-anchor="middle" fill="#000">-0.02</text>
<text x="438.67" y="238.30" font-family="'Liberation Sans', sans-serif" font-size="7.90" font-weight="bold" text-anchor="middle" fill="#000">-0.01</text>
<text x="481.70" y="238.30" font-family="'Liberation Sans', sans-serif" font-size="7.90" font-weight="bold" text-anchor="middle" fill="#000">0</text>
<text x="524.73" y="238.30" font-family="'Liberation Sans', sans-serif" font-size="7.90" font-weight="bold" text-anchor="middle" fill="#000">0.01</text>
<text x="567.76" y="238.30" font-family="'Liberation Sans', sans-serif" font-size="7.90" font-weight="bold" text-anchor="middle" fill="#000">0.02</text>
<text x="610.79" y="238.30" font-family="'Liberation Sans', sans-serif" font-size="7.90" font-weight="bold" text-anchor="middle" fill="#000">0.03</text>
<text x="444.70" y="250.10" font-family="'Liberation Serif', serif" font-size="10.60" font-weight="bold" text-anchor="start" fill="#000" textLength="71.50" lengthAdjust="spacingAndGlyphs">Velocity (m/s)</text>
<g transform="translate(335.5 141.5) scale(1.18 1) rotate(-90)"><text x="0.00" y="0.00" font-family="'Liberation Serif', serif" font-size="10.20" font-weight="bold" text-anchor="start" fill="#000" textLength="27.00" lengthAdjust="spacingAndGlyphs">Force</text><text x="31.30" y="0.00" font-family="'Liberation Serif', serif" font-size="10.20" font-weight="bold" text-anchor="start" fill="#000" textLength="21.20" lengthAdjust="spacingAndGlyphs">(kN)</text></g>
<text x="471.40" y="288.80" font-family="'Liberation Sans', sans-serif" font-size="13.40" font-weight="normal" text-anchor="middle" fill="#000" stroke="#000" stroke-width="0.25">(b)</text>
<rect x="241.30" y="183.50" width="44.40" height="43.90" fill="#fff" stroke="#333" stroke-width="0.9"/>
<line x1="243.00" y1="188.50" x2="260.50" y2="188.50" stroke="#000000" stroke-width="1.25"/>
<text x="261.80" y="191.60" font-family="'Liberation Serif', serif" font-size="7.60" font-weight="bold" text-anchor="start" fill="#000" textLength="22.00" lengthAdjust="spacingAndGlyphs">0.5 Hz</text>
<line x1="243.00" y1="196.50" x2="260.50" y2="196.50" stroke="#0000ff" stroke-width="1.25" stroke-dasharray="4.4 3.2"/>
<text x="261.80" y="200.15" font-family="'Liberation Serif', serif" font-size="7.60" font-weight="bold" text-anchor="start" fill="#000" textLength="15.80" lengthAdjust="spacingAndGlyphs">1 Hz</text>
<line x1="243.00" y1="205.50" x2="260.50" y2="205.50" stroke="#ff0000" stroke-width="1.25" stroke-dasharray="4 0.7 1 0.7"/>
<text x="261.80" y="208.70" font-family="'Liberation Serif', serif" font-size="7.60" font-weight="bold" text-anchor="start" fill="#000" textLength="16.20" lengthAdjust="spacingAndGlyphs">2 Hz</text>
<line x1="243.00" y1="213.50" x2="260.50" y2="213.50" stroke="#0072bd" stroke-width="1.25" stroke-dasharray="3 0.6 1 0.6"/>
<text x="261.80" y="217.25" font-family="'Liberation Serif', serif" font-size="7.60" font-weight="bold" text-anchor="start" fill="#000" textLength="16.20" lengthAdjust="spacingAndGlyphs">3 Hz</text>
<line x1="243.00" y1="222.50" x2="260.50" y2="222.50" stroke="#ff00ff" stroke-width="1.25" stroke-dasharray="4.4 3.2"/>
<text x="261.80" y="225.80" font-family="'Liberation Serif', serif" font-size="7.60" font-weight="bold" text-anchor="start" fill="#000" textLength="16.20" lengthAdjust="spacingAndGlyphs">4 Hz</text>
<rect x="558.40" y="176.50" width="47.20" height="46.70" fill="#fff" stroke="#333" stroke-width="0.9"/>
<line x1="560.00" y1="181.50" x2="578.50" y2="181.50" stroke="#000000" stroke-width="1.25"/>
<text x="579.40" y="185.10" font-family="'Liberation Serif', serif" font-size="8.00" font-weight="bold" text-anchor="start" fill="#000" textLength="23.60" lengthAdjust="spacingAndGlyphs">0.5 Hz</text>
<line x1="560.00" y1="190.50" x2="578.50" y2="190.50" stroke="#0000ff" stroke-width="1.25" stroke-dasharray="4.4 3.2"/>
<text x="579.40" y="194.20" font-family="'Liberation Serif', serif" font-size="8.00" font-weight="bold" text-anchor="start" fill="#000" textLength="16.40" lengthAdjust="spacingAndGlyphs">1 Hz</text>
<line x1="560.00" y1="200.50" x2="578.50" y2="200.50" stroke="#ff0000" stroke-width="1.25" stroke-dasharray="3 0.6 1 0.6"/>
<text x="579.40" y="203.30" font-family="'Liberation Serif', serif" font-size="8.00" font-weight="bold" text-anchor="start" fill="#000" textLength="16.60" lengthAdjust="spacingAndGlyphs">2 Hz</text>
<line x1="560.00" y1="209.50" x2="578.50" y2="209.50" stroke="#0072bd" stroke-width="1.25" stroke-dasharray="4.4 3.2"/>
<text x="579.40" y="212.40" font-family="'Liberation Serif', serif" font-size="8.00" font-weight="bold" text-anchor="start" fill="#000" textLength="16.60" lengthAdjust="spacingAndGlyphs">3 Hz</text>
<line x1="560.00" y1="218.50" x2="578.50" y2="218.50" stroke="#ff00ff" stroke-width="1.25" stroke-dasharray="2.6 0.6 1 0.6"/>
<text x="579.40" y="221.50" font-family="'Liberation Serif', serif" font-size="8.00" font-weight="bold" text-anchor="start" fill="#000" textLength="16.60" lengthAdjust="spacingAndGlyphs">4 Hz</text>
</svg></body></html>
